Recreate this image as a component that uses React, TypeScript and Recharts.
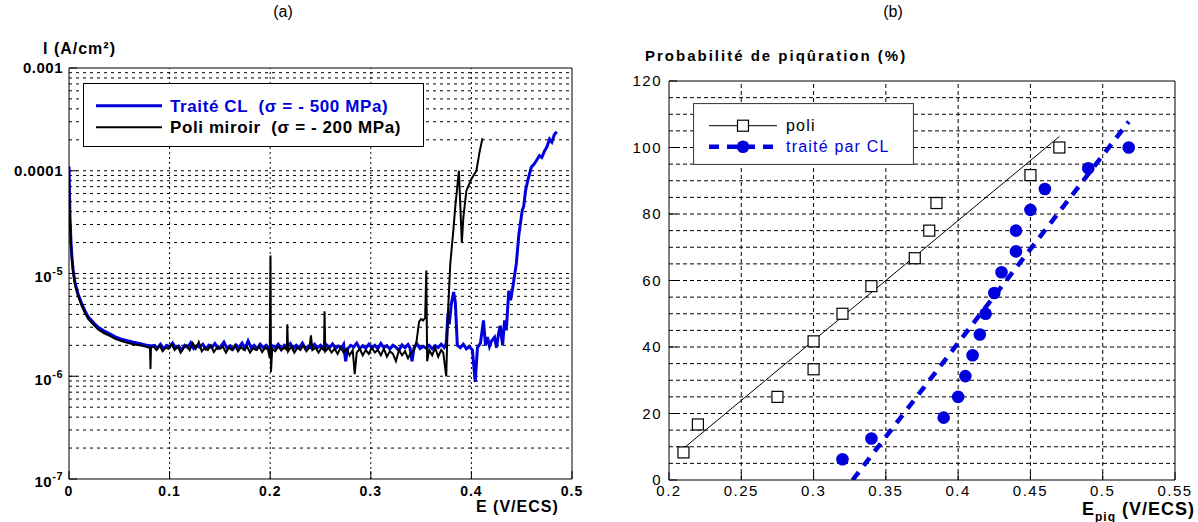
import React from "react";
import {
  ComposedChart,
  Line,
  Scatter,
  XAxis,
  YAxis,
  ReferenceLine,
  Legend,
} from "recharts";

const BLUE = "#0000dd";
const FONT = '"Liberation Sans", Arial, Helvetica, sans-serif';

// (a) polarisation curves, pairs of [E (V/ECS), I (µA/cm²)]
const traiteCurve: [number, number][] = [
  [0.0, 110], [0.0005, 60], [0.001, 35], [0.002, 20], [0.003, 14], [0.004, 11], [0.006, 8.1],
  [0.009, 6.3], [0.0126, 5.1], [0.016, 4.3], [0.019, 3.8], [0.024, 3.35], [0.029, 3.0],
  [0.035, 2.75], [0.04, 2.6], [0.046, 2.42], [0.052, 2.3], [0.058, 2.22], [0.064, 2.14],
  [0.07, 2.08], [0.076, 2.02], [0.082, 1.97],
  [0.085, 2.0], [0.088, 1.88], [0.091, 2.05], [0.094, 1.85], [0.097, 2.0], [0.1, 1.92],
  [0.103, 2.1], [0.106, 1.88], [0.109, 1.97], [0.112, 1.8], [0.115, 2.0], [0.118, 1.9],
  [0.121, 2.12], [0.124, 1.86], [0.127, 1.98], [0.13, 1.92], [0.133, 2.05], [0.136, 1.85],
  [0.139, 2.0], [0.142, 1.9], [0.145, 2.08], [0.148, 1.87], [0.151, 1.95], [0.154, 2.15],
  [0.157, 1.88], [0.16, 1.98], [0.163, 1.84], [0.166, 2.02], [0.169, 1.9], [0.172, 2.1],
  [0.175, 1.86], [0.178, 2.2], [0.181, 1.9], [0.184, 2.0], [0.187, 1.85], [0.19, 2.05],
  [0.193, 1.9], [0.196, 2.0], [0.199, 1.86], [0.202, 1.98], [0.205, 1.9], [0.208, 2.05],
  [0.211, 1.82], [0.214, 2.0], [0.217, 1.92], [0.22, 2.08], [0.223, 1.85], [0.226, 2.0],
  [0.229, 1.9], [0.232, 2.1], [0.235, 1.86], [0.238, 1.96], [0.241, 1.88], [0.244, 2.05],
  [0.247, 1.9], [0.25, 2.0], [0.253, 1.84], [0.256, 2.02], [0.259, 1.9], [0.262, 2.06],
  [0.265, 1.87], [0.268, 1.97], [0.271, 1.9], [0.273, 2.04], [0.275, 1.4], [0.277, 1.85],
  [0.28, 2.0], [0.283, 1.92], [0.286, 2.1], [0.289, 1.86], [0.292, 1.98], [0.295, 1.88],
  [0.298, 2.05], [0.301, 1.9], [0.304, 2.0], [0.307, 1.85], [0.31, 2.08], [0.313, 1.9],
  [0.316, 1.98], [0.319, 1.84], [0.322, 2.0], [0.325, 1.92], [0.328, 1.78], [0.331, 2.02],
  [0.334, 1.9], [0.337, 2.04], [0.339, 1.88], [0.341, 1.4], [0.343, 1.9], [0.346, 2.06],
  [0.349, 1.86], [0.352, 1.96], [0.355, 1.88], [0.358, 2.0], [0.361, 1.85], [0.364, 1.98],
  [0.367, 1.9], [0.37, 2.05], [0.373, 1.9],
  [0.375, 2.1], [0.3767, 4.1], [0.378, 3.2], [0.38, 5.0], [0.3823, 6.6], [0.384, 5.3],
  [0.386, 2.0], [0.389, 1.9], [0.392, 2.05], [0.395, 1.85], [0.398, 1.95], [0.401, 1.8],
  [0.4038, 0.88], [0.406, 1.9], [0.409, 2.1], [0.412, 3.5], [0.414, 2.0], [0.416, 2.4],
  [0.418, 1.95], [0.42, 2.2], [0.423, 2.4], [0.425, 1.9], [0.427, 2.6], [0.4287, 3.1],
  [0.431, 2.0], [0.433, 3.5], [0.4347, 2.8], [0.436, 4.5], [0.4372, 6.8], [0.439, 5.5],
  [0.4412, 7.4], [0.4446, 12.4], [0.4472, 24], [0.4505, 41], [0.452, 45], [0.4538, 64],
  [0.456, 80], [0.4595, 108], [0.462, 115], [0.4645, 125], [0.4677, 140], [0.47, 135],
  [0.4727, 156], [0.475, 170], [0.4777, 203], [0.48, 190], [0.4825, 225], [0.4849, 240],
];

const poliCurve: [number, number][] = [
  [0.0, 100], [0.0005, 55], [0.001, 33], [0.002, 19], [0.003, 13.3], [0.004, 10.5], [0.006, 7.7],
  [0.009, 6.0], [0.0126, 4.85], [0.016, 4.1], [0.019, 3.62], [0.024, 3.2], [0.029, 2.86],
  [0.035, 2.62], [0.04, 2.48], [0.046, 2.31], [0.052, 2.2], [0.058, 2.12], [0.064, 2.05],
  [0.07, 2.0], [0.076, 1.95], [0.079, 1.9],
  [0.0805, 1.88], [0.081, 1.18], [0.0815, 1.9], [0.084, 1.95], [0.087, 1.8], [0.09, 2.0],
  [0.093, 1.75], [0.096, 1.9], [0.099, 1.85], [0.102, 2.05], [0.105, 1.8], [0.108, 1.95],
  [0.111, 1.7], [0.114, 1.9], [0.117, 2.0], [0.12, 1.8], [0.123, 2.1], [0.126, 1.85],
  [0.129, 2.15], [0.132, 1.75], [0.135, 1.9], [0.138, 1.8], [0.141, 2.0], [0.144, 1.72],
  [0.147, 1.9], [0.15, 1.85], [0.153, 1.95], [0.156, 1.7], [0.159, 1.9], [0.162, 1.8],
  [0.165, 2.0], [0.168, 1.75], [0.171, 1.92], [0.174, 1.8], [0.177, 1.95], [0.18, 1.7],
  [0.183, 1.88], [0.186, 1.8], [0.189, 1.95], [0.192, 1.72], [0.195, 1.9], [0.198, 1.8],
  [0.1995, 1.5], [0.2003, 15], [0.2008, 1.1], [0.202, 1.85], [0.205, 1.75], [0.208, 1.95],
  [0.211, 1.8], [0.214, 1.9], [0.2165, 1.8], [0.217, 3.2], [0.2178, 1.75], [0.221, 1.95],
  [0.224, 1.7], [0.227, 1.9], [0.23, 1.8], [0.233, 2.0], [0.236, 1.75], [0.239, 1.9],
  [0.2405, 2.5], [0.242, 1.8], [0.245, 1.9], [0.248, 1.7], [0.251, 1.9], [0.2535, 1.8],
  [0.254, 4.3], [0.2548, 1.75], [0.258, 1.9], [0.261, 1.7], [0.264, 1.85], [0.267, 1.65],
  [0.27, 1.9], [0.273, 1.7], [0.276, 1.85], [0.279, 1.6], [0.282, 1.8], [0.284, 1.05],
  [0.286, 1.7], [0.289, 1.85], [0.292, 1.6], [0.295, 1.8], [0.298, 1.65], [0.301, 1.9],
  [0.304, 1.7], [0.307, 1.8], [0.31, 1.6], [0.313, 1.85], [0.316, 1.55], [0.319, 1.75],
  [0.322, 1.65], [0.325, 1.4], [0.328, 1.8], [0.331, 1.6], [0.334, 1.75], [0.337, 1.5],
  [0.34, 1.7], [0.343, 1.8], [0.3455, 2.2], [0.348, 3.4], [0.35, 3.6], [0.352, 3.5],
  [0.354, 3.7], [0.3552, 10.7], [0.356, 1.4], [0.358, 1.8], [0.361, 1.6], [0.364, 1.9],
  [0.367, 1.55], [0.37, 1.8], [0.372, 1.7], [0.375, 1.0], [0.3767, 4.1], [0.379, 12.4],
  [0.382, 26], [0.384, 45], [0.386, 70], [0.3876, 100], [0.389, 45], [0.3905, 20],
  [0.392, 35], [0.395, 64], [0.4, 83], [0.405, 100], [0.408, 150], [0.411, 207],
];

const potentialTicks = [0, 0.1, 0.2, 0.3, 0.4, 0.5];
const potentialGrid = [0.1, 0.2, 0.3, 0.4];
const decadeTicks = [-7, -6, -5, -4, -3];
const decadeBase = ["10", "10", "10", "0.0001", "0.001"];
const decadeExp = ["-7", "-6", "-5", "", ""];
const minorFactors = [1, 2, 3, 4, 5, 6, 7, 8, 9];

// (b) pitting probability vs pitting potential
const poliE = [0.21, 0.22, 0.275, 0.3, 0.3, 0.32, 0.34, 0.37, 0.38, 0.385, 0.45, 0.47];
const poliP = [8.3, 16.7, 25, 33.3, 41.7, 50, 58.3, 66.7, 75, 83.3, 91.7, 100];
const traiteE = [0.32, 0.34, 0.39, 0.4, 0.405, 0.41, 0.415, 0.419, 0.425, 0.43, 0.44, 0.44, 0.45, 0.46, 0.49, 0.518];
const traiteP = [6.25, 12.5, 18.75, 25, 31.25, 37.5, 43.75, 50, 56.25, 62.5, 68.75, 75, 81.25, 87.5, 93.75, 100];
const poliFitE = [0.21, 0.47];
const poliFitP = [9.5, 103.3];
const traiteFitE = [0.327, 0.518];
const traiteFitP = [0, 107.8];
const pitTicksX = [0.2, 0.25, 0.3, 0.35, 0.4, 0.45, 0.5, 0.55];
const pitTicksY = [0, 20, 40, 60, 80, 100, 120];

const traiteTable = traiteCurve.map(([E, I]) => ({ E, lg: Math.log10(I * 1e-6) }));
const poliTable = poliCurve.map(([E, I]) => ({ E, lg: Math.log10(I * 1e-6) }));
const minorLines: number[] = [];
for (let d = -7; d < -3; d++) {
  for (const k of minorFactors) {
    if (d === -7 && k === 1) continue;
    minorLines.push(d + Math.log10(k));
  }
}

const poliPoints = poliE.map((E, i) => ({ E, P: poliP[i] }));
const traitePoints = traiteE.map((E, i) => ({ E, P: traiteP[i] }));
const poliFit = poliFitE.map((E, i) => ({ E, P: poliFitP[i] }));
const traiteFit = traiteFitE.map((E, i) => ({ E, P: traiteFitP[i] }));
const pitGridY: number[] = [];
for (let p = 5; p < 120; p += 5) pitGridY.push(p);
const pitGridX = pitTicksX.slice(1, -1);

function CurrentTick(props: any) {
  const { x, y, payload } = props;
  const i = decadeTicks.indexOf(payload.value);
  const exp = decadeExp[i];
  return (
    <text
      x={x}
      y={exp ? y + 3 : y}
      dy="0.35em"
      textAnchor="end"
      fontFamily={FONT}
      fontWeight="bold"
      fontSize={15}
      letterSpacing={0.5}
      fill="#000"
    >
      <tspan>{decadeBase[i]}</tspan>
      {exp && (
        <tspan dy={-7} fontSize={11}>
          {exp}
        </tspan>
      )}
    </text>
  );
}

function PotentialTick(props: any) {
  const { x, y, payload } = props;
  return (
    <text x={x} y={y} dy="0.35em" textAnchor="middle" fontFamily={FONT} fontWeight="bold" fontSize={14} letterSpacing={1} fill="#000">
      {payload.value}
    </text>
  );
}

function PlainTick(props: any) {
  const { x, y, payload, textAnchor } = props;
  return (
    <text x={x} y={y} dy="0.35em" textAnchor={textAnchor} fontFamily={FONT} fontSize={15} letterSpacing={1.5} fill="#000">
      {payload.value}
    </text>
  );
}

function CurveLegend() {
  return (
    <svg width={341} height={64} style={{ display: "block" }}>
      <rect x={0.5} y={0.5} width={340} height={63} fill="#fff" stroke="#000" strokeWidth={1} />
      <line x1={13} x2={79} y1={22.7} y2={22.7} stroke={BLUE} strokeWidth={3} />
      <line x1={13} x2={79} y1={44.3} y2={44.3} stroke="#000" strokeWidth={2} />
      <text x={87} y={22.7} dy="0.35em" fontFamily={FONT} fontWeight="bold" fontSize={17} letterSpacing={0.6} fill={BLUE} style={{ whiteSpace: "pre" }}>
        {"Traité CL  (σ = - 500 MPa)"}
      </text>
      <text x={87} y={44.3} dy="0.35em" fontFamily={FONT} fontWeight="bold" fontSize={17} letterSpacing={0.6} fill="#000" style={{ whiteSpace: "pre" }}>
        {"Poli miroir  (σ = - 200 MPa)"}
      </text>
    </svg>
  );
}

function PitLegend() {
  return (
    <svg width={221} height={62} style={{ display: "block" }}>
      <rect x={0.5} y={0.5} width={220} height={61} fill="#fff" stroke="#444" strokeWidth={1.2} />
      <line x1={16} x2={84} y1={22.7} y2={22.7} stroke="#000" strokeWidth={1} />
      <rect x={44.5} y={17.2} width={11} height={11} fill="#fff" stroke="#000" strokeWidth={1.2} />
      <line x1={16} x2={84} y1={43.7} y2={43.7} stroke={BLUE} strokeWidth={4.5} strokeDasharray="10 8" />
      <circle cx={50} cy={43.7} r={6.3} fill={BLUE} />
      <text x={93} y={22.7} dy="0.35em" fontFamily={FONT} fontSize={16} letterSpacing={1.2} fill="#000">
        poli
      </text>
      <text x={93} y={43.7} dy="0.35em" fontFamily={FONT} fontSize={16} letterSpacing={1.2} fill={BLUE}>
        traité par CL
      </text>
    </svg>
  );
}

const label = (left: number, top: number, extra: React.CSSProperties = {}): React.CSSProperties => ({
  position: "absolute",
  left,
  top,
  fontFamily: FONT,
  color: "#000",
  whiteSpace: "nowrap",
  lineHeight: 1,
  ...extra,
});

export default function App() {
  return (
    <div style={{ position: "absolute", left: 0, top: 0, width: 1198, height: 522, background: "#fff", overflow: "hidden" }}>
      <ComposedChart width={600} height={522} margin={{ top: 68, right: 28, bottom: 23, left: 0 }} style={{ position: "absolute", left: 0, top: 0 }}>
        <XAxis
          dataKey="E"
          type="number"
          domain={[0, 0.5]}
          ticks={potentialTicks}
          allowDataOverflow
          height={20}
          tickSize={-8}
          tickMargin={20}
          tick={(p: any) => <PotentialTick {...p} />}
          stroke="#000"
        />
        <YAxis
          dataKey="lg"
          type="number"
          domain={[-7, -3]}
          ticks={decadeTicks}
          allowDataOverflow
          width={69}
          tickSize={-8}
          tickMargin={14}
          tick={(p: any) => <CurrentTick {...p} />}
          stroke="#000"
        />
        {minorLines.map((v) => (
          <ReferenceLine key={`h${v}`} y={v} stroke="#000" strokeWidth={1} strokeDasharray="3 4" />
        ))}
        {potentialGrid.map((v) => (
          <ReferenceLine key={`v${v}`} x={v} stroke="#000" strokeWidth={1} strokeDasharray="2 3" />
        ))}
        <ReferenceLine y={-3} stroke="#000" />
        <ReferenceLine x={0.5} stroke="#000" />
        <Line data={traiteTable} dataKey="lg" type="linear" stroke={BLUE} strokeWidth={3} dot={false} isAnimationActive={false} />
        <Line data={poliTable} dataKey="lg" type="linear" stroke="#000" strokeWidth={2} dot={false} isAnimationActive={false} />
        <Legend
          layout="horizontal"
          verticalAlign="middle"
          align="center"
          wrapperStyle={{ left: 83, top: 83, width: 341, height: 64 }}
          content={() => <CurveLegend />}
        />
      </ComposedChart>

      <ComposedChart width={598} height={522} margin={{ top: 81, right: 23, bottom: 22, left: 0 }} style={{ position: "absolute", left: 600, top: 0 }}>
        <XAxis
          dataKey="E"
          type="number"
          domain={[0.2, 0.55]}
          ticks={pitTicksX}
          allowDataOverflow
          height={20}
          tickSize={-8}
          tickMargin={19}
          tick={(p: any) => <PlainTick {...p} textAnchor="middle" />}
          stroke="#000"
        />
        <YAxis
          dataKey="P"
          type="number"
          domain={[0, 120]}
          ticks={pitTicksY}
          allowDataOverflow
          width={69}
          tickSize={-8}
          tickMargin={15}
          tick={(p: any) => <PlainTick {...p} textAnchor="end" />}
          stroke="#000"
        />
        {pitGridY.map((v) => (
          <ReferenceLine key={`h${v}`} y={v} stroke="#000" strokeWidth={1} strokeDasharray="4 3" />
        ))}
        {pitGridX.map((v) => (
          <ReferenceLine key={`v${v}`} x={v} stroke="#000" strokeWidth={1} strokeDasharray="4 3" />
        ))}
        <ReferenceLine y={120} stroke="#000" />
        <ReferenceLine x={0.55} stroke="#000" />
        <Line data={poliFit} dataKey="P" type="linear" stroke="#000" strokeWidth={1} dot={false} isAnimationActive={false} />
        <Line data={traiteFit} dataKey="P" type="linear" stroke={BLUE} strokeWidth={4.5} strokeDasharray="10 8" dot={false} isAnimationActive={false} />
        <Scatter
          data={poliPoints}
          dataKey="P"
          isAnimationActive={false}
          shape={(p: any) => (
            <rect x={p.cx - 5.5} y={p.cy - 5.5} width={11} height={11} fill="#fff" stroke="#000" strokeWidth={1.2} />
          )}
        />
        <Scatter
          data={traitePoints}
          dataKey="P"
          isAnimationActive={false}
          shape={(p: any) => <circle cx={p.cx} cy={p.cy} r={6.3} fill={BLUE} />}
        />
        <Legend
          layout="horizontal"
          verticalAlign="middle"
          align="center"
          wrapperStyle={{ left: 93, top: 103, width: 221, height: 62 }}
          content={() => <PitLegend />}
        />
      </ComposedChart>

      <div style={label(283, 4, { fontSize: 16, transform: "translateX(-50%)" })}>(a)</div>
      <div style={label(893, 4, { fontSize: 16, transform: "translateX(-50%)" })}>(b)</div>
      <div style={label(43, 41, { fontSize: 16, fontWeight: "bold", letterSpacing: 1 })}>I (A/cm²)</div>
      <div style={label(476, 499, { fontSize: 16, fontWeight: "bold", letterSpacing: 1 })}>E (V/ECS)</div>
      <div style={label(645, 48, { fontSize: 15, fontWeight: "bold", letterSpacing: 2 })}>Probabilité de piqûration (%)</div>
      <div style={label(1082, 500, { fontSize: 18, fontWeight: "bold", letterSpacing: 1 })}>
        E<sub style={{ fontSize: 12, verticalAlign: "-6px" }}>piq</sub> (V/ECS)
      </div>
    </div>
  );
}
